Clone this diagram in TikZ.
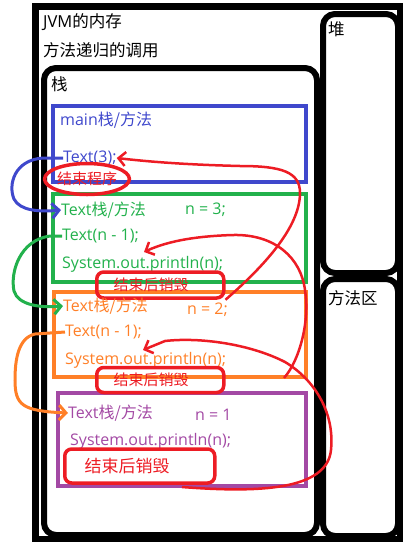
\documentclass[tikz,border=0pt]{standalone}
\usepackage{fontspec}
\setmainfont{Open Sans}
\newfontfamily\cjk{Noto Sans CJK SC}
\usetikzlibrary{arrows.meta,shapes.geometric}
\definecolor{mblue}{HTML}{3F48CC}
\definecolor{mgreen}{HTML}{22B14C}
\definecolor{morange}{HTML}{FF7F27}
\definecolor{mpurple}{HTML}{A349A4}
\definecolor{mred}{HTML}{ED1C24}
\newcommand\titlefont{\fontsize{16.5}{19}\selectfont}
\newcommand\codefont{\fontsize{16}{19}\selectfont}
\tikzset{
  memframe/.style={draw=black, line width=6pt, rounded corners=12pt, inner sep=0pt, anchor=north west},
  callbox/.style={draw=#1, line width=4pt, inner sep=0pt, anchor=north west},
  memlabel/.style={anchor=west, inner sep=0pt, font=\titlefont},
  codeline/.style={anchor=west, inner sep=0pt, font=\codefont, text=#1},
  endbox/.style={draw=mred, line width=3.5pt, rounded corners=7pt, text=mred, anchor=west,
    inner ysep=0pt, font=\fontsize{15}{18}\selectfont\cjk},
  redcurve/.style={draw=mred, line width=2.5pt, -{Straight Barb[length=7pt,width=14pt]}},
  hook/.style={draw=#1, line width=3pt, -{Straight Barb[length=7pt,width=15pt]}},
}

\begin{document}
\begin{tikzpicture}[x=1pt,y=-1pt]
    \useasboundingbox (0,0) rectangle (403,542);
    % JVM memory frames
    \draw[line width=7pt] (35,6.5) rectangle (400,539);
    \node[memframe, minimum width=273pt, minimum height=467pt] (stack) at (41,65) {};
    \node[memframe, minimum width=75pt, minimum height=259pt] (heap) at (320,11) {};
    \node[memframe, minimum width=75pt, minimum height=257pt] (methodarea) at (320,276) {};
    \node[memlabel] (jvm) at (43,22) {JVM{\cjk 的内存}};
    \node[memlabel] (recur) at (43,50) {\cjk 方法递归的调用};
    \node[memlabel] (stacklbl) at (51,84) {\cjk 栈};
    \node[memlabel] (heaplbl) at (328,29) {\cjk 堆};
    \node[memlabel] (methodlbl) at (328,298) {\cjk 方法区};
    % stack frames of the calls
    \node[callbox=mblue, minimum width=253pt, minimum height=76pt] (mainbox) at (51,104) {};
    \node[callbox=mgreen, minimum width=253pt, minimum height=88pt] (box3) at (51,192) {};
    \node[callbox=morange, minimum width=252pt, minimum height=85pt] (box2) at (52,290) {};
    \node[callbox=mpurple, minimum width=248pt, minimum height=93pt] (box1) at (56,391) {};
    % main
    \node[codeline=mblue] (maintitle) at (60,120) {main{\cjk 栈/方法}};
    \node[codeline=mblue] (maincall) at (63,158) {Text(3);};
    \node[ellipse, draw=mred, line width=3.5pt, minimum width=76pt, minimum height=31pt,
      inner sep=0pt, text=mred, font=\fontsize{15}{18}\selectfont\cjk] (mainend) at (87,179) {结束程序};
    % n = 3
    \node[codeline=mgreen] (title3) at (61,210) {Text{\cjk 栈/方法}};
    \node[codeline=mgreen] (n3) at (185,210) {n = 3;};
    \node[codeline=mgreen] (call3) at (62,236) {Text(n - 1);};
    \node[codeline=mgreen] (print3) at (62,264) {System.out.println(n);};
    \node[endbox, minimum height=26pt, text width=93pt, inner xsep=17pt] (end3) at (95,285) {结束后销毁};
    % n = 2
    \node[codeline=morange] (title2) at (63,306) {Text{\cjk 栈/方法}};
    \node[codeline=morange] (n2) at (187,310) {n = 2;};
    \node[codeline=morange] (call2) at (65,332) {Text(n - 1);};
    \node[codeline=morange] (print2) at (65,360) {System.out.println(n);};
    \node[endbox, minimum height=25pt, text width=93pt, inner xsep=17pt] (end2) at (95,380) {结束后销毁};
    % n = 1
    \node[codeline=mpurple] (title1) at (68,413) {Text{\cjk 栈/方法}};
    \node[codeline=mpurple] (n1) at (195,415) {n = 1};
    \node[codeline=mpurple] (print1) at (70,441) {System.out.println(n);};
    \node[endbox, minimum height=34pt, text width=110pt, inner xsep=20pt,
      font=\fontsize{17}{20}\selectfont\cjk] (end1) at (63,466) {结束后销毁};
    % calls going down
    \draw[hook=mblue] (maincall.west) -- (43,158)
        .. controls (14,160) and (8,185) .. (14,199)
        .. controls (20,211) and (40,212) .. (title3.west);
    \draw[hook=mgreen] (call3.west) -- (50,236)
        .. controls (20,240) and (10,272) .. (14,291)
        .. controls (18,305) and (40,308) .. (title2.west);
    \draw[hook=morange] (call2.west) -- (35,334)
        .. controls (18,338) and (15,360) .. (15,380)
        .. controls (15,405) and (22,411) .. (title1.west);
    % returns going up
    \coordinate (ret1) at (182,487);
    \coordinate (hit2) at (143,350);
    \coordinate (ret2) at (284,378);
    \coordinate (hit3) at (144,252);
    \draw[redcurve] (ret1) .. controls (260,493) and (327,490) .. (331,450)
        .. controls (335,410) and (312,378) .. (285,362)
        .. controls (250,344) and (200,337) .. (165,341) -- (hit2);
    \draw[redcurve] (ret2) .. controls (300,360) and (310,320) .. (305,290)
        .. controls (301,258) and (275,234) .. (233,235)
        .. controls (200,236) and (170,240) .. (hit3);
    \draw[redcurve] (end3.south east) .. controls (262,268) and (300,228) .. (300,193)
        .. controls (300,172) and (282,166) .. (240,166)
        .. controls (200,165) and (160,163) .. (maincall.east);
\end{tikzpicture}
\end{document}
